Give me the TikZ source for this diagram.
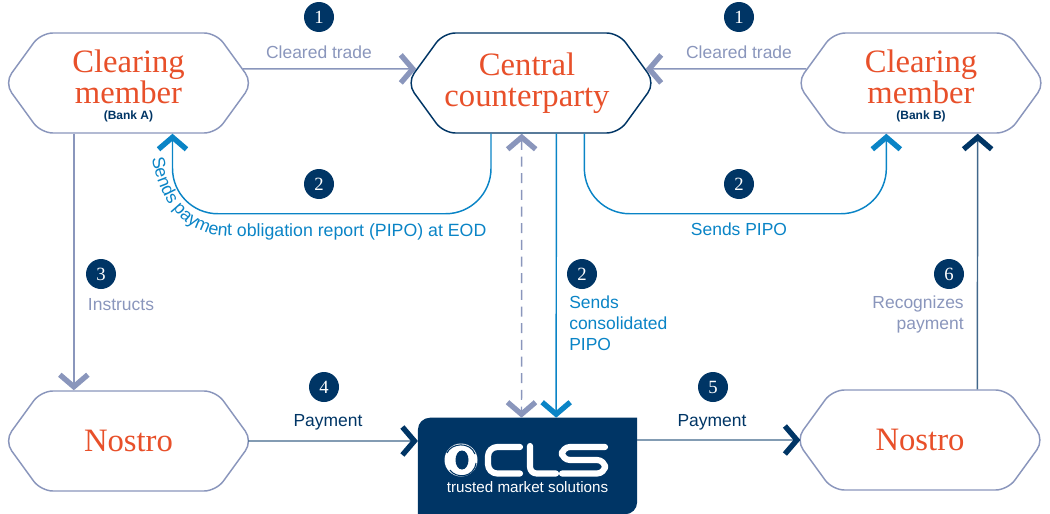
\documentclass[tikz,border=0pt]{standalone}
\usepackage{fontspec}
\setmainfont{Liberation Sans}
\newfontfamily\headfont{Liberation Serif}
\usetikzlibrary{arrows.meta,shapes.symbols,decorations.text}

\definecolor{navyblue}{HTML}{003565}
\definecolor{slateblue}{HTML}{8A96BC}
\definecolor{brightblue}{HTML}{0A84C6}
\definecolor{redorange}{HTML}{E8502A}

\tikzset{
    hexbox/.style={draw=slateblue, line width=1.1pt, fill=white, shape=signal, signal to=east and west, signal pointer angle=108, rounded corners=9pt, minimum width=186pt, minimum height=75pt, inner sep=0pt, align=center, text=redorange, font=\headfont\fontsize{24.5}{23.5}\selectfont},
    badge/.style={circle, fill=navyblue, text=white, minimum size=22.5pt, inner sep=0pt, font=\headfont\fontsize{14}{14}\selectfont},
    tag/.style={font=\fontsize{13.1}{15.5}\selectfont, inner sep=0pt, align=left},
    bankname/.style={font=\bfseries\fontsize{9}{10}\selectfont, text=navyblue},
    chevron/.style={-{Straight Barb[length=9pt, width=21pt, line width=4pt]}, line width=1.1pt},
    slateline/.style={chevron, draw=slateblue},
    blueline/.style={chevron, draw=brightblue},
    navyline/.style={-{Straight Barb[length=9pt, width=21pt, line width=4pt, color=navyblue]}, line width=1.1pt, draw=navyblue!75}
}

\begin{document}
\begin{tikzpicture}[x=0.75pt, y=-0.75pt]
    \useasboundingbox (0,0) rectangle (1050,514);

    % Boxes
    \node[hexbox] (memberA) at (128.5,83) {Clearing\\member\\[-14pt]\phantom{x}};
    \node[hexbox, draw=navyblue] (central) at (531,83) {Central\hspace*{6pt}\\counterparty\hspace*{6pt}};
    \node[hexbox] (memberB) at (921,83) {Clearing\\member\\[-14pt]\phantom{x}};
    \node[hexbox] (nostroA) at (128.5,441) {Nostro};
    \node[hexbox] (nostroB) at (920,440) {Nostro};
    \node[bankname] (bankA) at (128.5,116) {(Bank A)};
    \node[bankname] (bankB) at (921,116) {(Bank B)};

    % CLS box
    \node[minimum width=164pt, minimum height=72pt, inner sep=0pt] (cls) at (527.5,466) {};
    \fill[navyblue] (cls.south west) -- (cls.west) [rounded corners=9pt] -- (cls.north west) [sharp corners] -- (cls.north east) -- (cls.east) [rounded corners=9pt] -- (cls.south east) [sharp corners] -- cycle;
    \fill[white] (461,460) circle (16.5);
    \fill[navyblue] (462,460) ellipse (6.5 and 9.5);
    \draw[navyblue, line width=0.8pt] (447,453) .. controls (451,443) and (470,441) .. (475,454);
    \draw[navyblue, line width=0.8pt] (476,463) .. controls (474,478) and (456,479) .. (450,470);
    \draw[white, line width=4.6pt, line cap=round, line join=round, rounded corners=7pt] (520,447) -- (488,447) -- (488,473.5) -- (520,473.5);
    \draw[white, line width=4.6pt, line cap=round, line join=round, rounded corners=5pt] (530,446) -- (530,473.5) -- (556,473.5);
    \draw[white, line width=4.6pt, line cap=round, line join=round, rounded corners=6pt] (605,447) -- (562,447) -- (562,460) -- (605,460) -- (605,473.5) -- (562,473.5);
    \node[text=white, font=\fontsize{11.4}{12}\selectfont, inner sep=0pt] (tagline) at (527.5,487) {trusted market solutions};

    % Cleared trades
    \draw[slateline] (memberA.7) -- (central.173);
    \draw[slateline] (memberB.173) -- (central.7);
    \node[tag, text=slateblue] (clearedA) at (319,52) {Cleared trade};
    \node[tag, text=slateblue] (clearedB) at (739,52) {Cleared trade};

    % Payment obligation reports
    \draw[blueline, rounded corners=34pt] ([xshift=-30pt]central.south) -- ++(0,80) -| ([xshift=33pt]memberA.south);
    \draw[blueline, rounded corners=34pt] ([xshift=40pt]central.south) -- ++(0,80) -| ([xshift=-26pt]memberB.south);
    \path[postaction={decorate}, decoration={text along path, text format delimiters={|}{|}, text={|\fontsize{13.3}{15}\selectfont\color{brightblue}|Sends payment obligation report (PIPO) at EOD}}] (152,158) .. controls (158,195) and (180,236) .. (230,236) -- (500,236);
    \node[tag, text=brightblue] (sendsB) at (739,229) {Sends PIPO};

    % Towards CLS
    \draw[slateline, {Straight Barb[length=9pt, width=21pt, line width=4pt]}-{Straight Barb[length=9pt, width=21pt, line width=4pt]}, dash pattern=on 7.5pt off 5pt] ([xshift=-7pt]central.south) -- ([xshift=-4.5pt]cls.north);
    \draw[blueline] ([xshift=19pt]central.south) -- ([xshift=21.5pt]cls.north);
    \node[tag, text=brightblue, anchor=north west] (sendsAll) at (569,296) {Sends\\consolidated\\PIPO};

    % Instructions and payments
    \draw[slateline] ([xshift=-41pt]memberA.south) -- ([xshift=-41pt]nostroA.north);
    \node[tag, text=slateblue] (instructs) at (121,305) {Instructs};
    \draw[navyline] ([xshift=-4pt]nostroA.0) -- (cls.west |- nostroA.east);
    \draw[navyline] (cls.east |- nostroB.west) -- ([xshift=4pt]nostroB.180);
    \node[tag, text=navyblue] (payA) at (328,422) {Payment};
    \node[tag, text=navyblue] (payB) at (712,422) {Payment};
    \draw[navyline] ([xshift=43pt]nostroB.north) -- ([xshift=42.5pt]memberB.south);
    \node[tag, text=slateblue, align=right, anchor=north east] (recognizes) at (964,296) {Recognizes\\payment};

    % Step numbers
    \node[badge] (stepA) at (319,17) {1};
    \node[badge] (stepB) at (739,17) {1};
    \node[badge] (stepC) at (319,184) {2};
    \node[badge] (stepD) at (739,184) {2};
    \node[badge] (stepE) at (582,274) {2};
    \node[badge] (stepF) at (101,274) {3};
    \node[badge] (stepG) at (324,387) {4};
    \node[badge] (stepH) at (713,387) {5};
    \node[badge] (stepI) at (949,274) {6};
\end{tikzpicture}
\end{document}
